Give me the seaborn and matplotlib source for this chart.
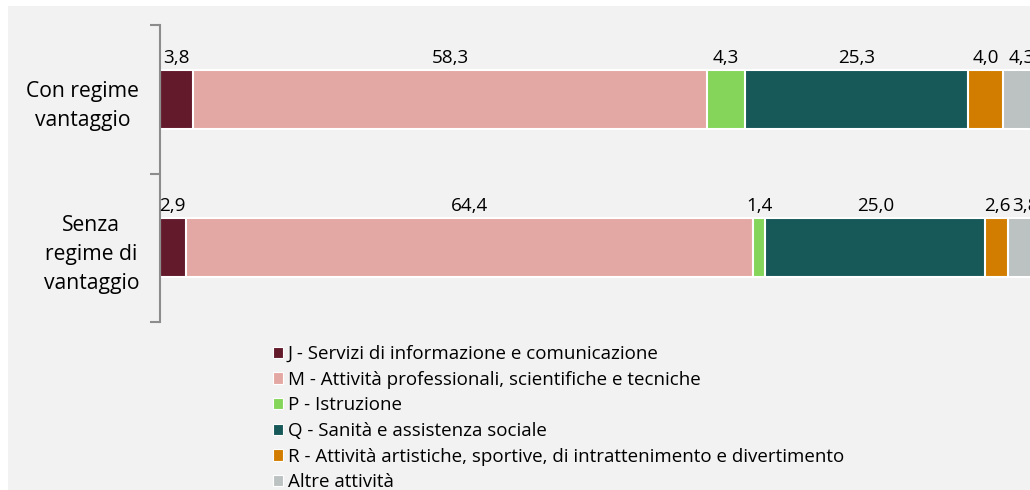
import matplotlib
matplotlib.use("Agg")
import matplotlib.pyplot as plt
import matplotlib.patches as mpatches
import seaborn as sns
import numpy as np
import pandas as pd

categories = ["Con regime\nvantaggio", "Senza\nregime di\nvantaggio"]
series_names = [
    "J - Servizi di informazione e comunicazione",
    "M - Attività professionali, scientifiche e tecniche",
    "P - Istruzione",
    "Q - Sanità e assistenza sociale",
    "R - Attività artistiche, sportive, di intrattenimento e divertimento",
    "Altre attività",
]
J_vals = [3.8, 2.9]
M_vals = [58.3, 64.4]
P_vals = [4.3, 1.4]
Q_vals = [25.3, 25.0]
R_vals = [4.0, 2.6]
Altre_vals = [4.3, 3.8]
colors = ["#631A2B", "#E4A8A4", "#84D55A", "#175859", "#D27D00", "#BBC2C1"]

sns.set_theme(style="white")
plt.rcParams["font.family"] = ["Open Sans", "DejaVu Sans"]
plt.rcParams["text.color"] = "black"
plt.rcParams["ytick.labelcolor"] = "black"

fig = plt.figure(figsize=(10.3, 4.9), dpi=100, facecolor="white")
fig.patches.append(mpatches.Rectangle((8 / 1030, 0), 1, 1 - 6 / 490, transform=fig.transFigure,
                                      facecolor="#F2F2F2", edgecolor="none", zorder=-10))

ax = fig.add_axes([160 / 1030, 1 - 322 / 490, 881 / 1030, 297 / 490])
ax.set_facecolor("none")

series = [J_vals, M_vals, P_vals, Q_vals, R_vals, Altre_vals]
arr = np.array(series)
cum = np.cumsum(arr, axis=0)

# draw cumulative bars from the largest to the smallest so they stack
for i in range(len(series) - 1, -1, -1):
    df = pd.DataFrame({"cat": categories, "val": cum[i]})
    sns.barplot(data=df, x="val", y="cat", orient="h", color=colors[i], width=0.4,
                edgecolor="white", linewidth=1.5, saturation=1, ax=ax)

for i, vals in enumerate(series):
    for j, v in enumerate(vals):
        xc = cum[i][j] - v / 2
        ax.annotate(f"{v:.1f}".replace(".", ","), xy=(xc, j - 0.2), xytext=(0, 2),
                    textcoords="offset points", ha="center", va="bottom",
                    fontsize=13.6, color="black", annotation_clip=False)

ax.set_xlim(0, 100)
ax.set_ylim(1.5, -0.5)
ax.set_xlabel("")
ax.set_ylabel("")
for s in ["top", "right", "bottom"]:
    ax.spines[s].set_visible(False)
ax.spines["left"].set_color("#8C8C8C")
ax.spines["left"].set_linewidth(1.5)
ax.set_xticks([])
ax.set_yticks([0, 1])
ax.set_yticklabels(categories, fontsize=15.2, multialignment="center", linespacing=1.5,
                   color="black")
ax.tick_params(axis="y", which="major", length=0, pad=15)
ax.set_yticks([-0.5, 0.5, 1.5], minor=True)
ax.tick_params(axis="y", which="minor", left=True, length=7, width=1.5, color="#8C8C8C",
               direction="out")

handles = [mpatches.Patch(facecolor=c, edgecolor="white", linewidth=0.8) for c in colors]
fig.legend(handles, series_names, loc="upper left", bbox_to_anchor=(273 / 1030, 1 - 345 / 490),
           frameon=False, fontsize=13.5, handlelength=0.55, handleheight=0.55, handletextpad=0.25,
           labelspacing=0.41, borderpad=0, borderaxespad=0, labelcolor="black")

fig.savefig("out.png", dpi=100, facecolor="white")
